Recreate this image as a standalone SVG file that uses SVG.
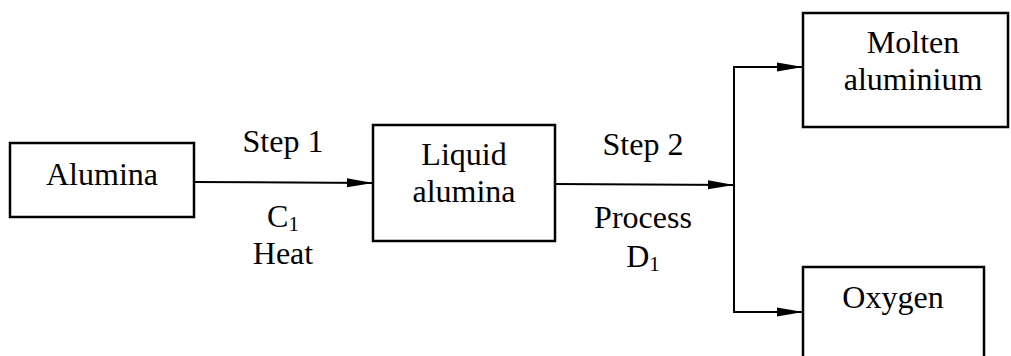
<svg xmlns="http://www.w3.org/2000/svg" width="1011" height="356" viewBox="0 0 1011 356">
<style>
.box{fill:#fff;stroke:#000;stroke-width:2.5}
text{font-family:"Liberation Serif","Times New Roman",serif;font-size:32px;fill:#000;text-anchor:middle}
.ln{fill:none;stroke:#000;stroke-width:2}
.sub{font-size:21px}
</style>
<defs>
<marker id="ah" markerWidth="26" markerHeight="10" refX="26" refY="5" orient="auto" markerUnits="userSpaceOnUse">
<path d="M0,0.5 L26,5 L0,9.5 Z" fill="#000"/>
</marker>
</defs>
<rect width="1011" height="356" fill="#fff"/>
<g id="connectors">
<line class="ln" x1="194" y1="182" x2="373" y2="183" marker-end="url(#ah)"/>
<line class="ln" x1="555" y1="184" x2="734" y2="185" marker-end="url(#ah)"/>
<polyline class="ln" points="803,67 734,67 734,312 803,312"/>
<line class="ln" x1="734" y1="67" x2="803" y2="67" marker-end="url(#ah)"/>
<line class="ln" x1="734" y1="312" x2="803" y2="312" marker-end="url(#ah)"/>
<text x="283" y="152">Step 1</text>
<text x="283" y="227">C<tspan class="sub" dy="4">1</tspan></text>
<text x="283" y="264">Heat</text>
<text x="643" y="155">Step 2</text>
<text x="643" y="228">Process</text>
<text x="643" y="267">D<tspan class="sub" dy="4">1</tspan></text>
</g>
<g id="alumina">
<rect class="box" x="10" y="143" width="184" height="74"/>
<text x="102" y="185">Alumina</text>
</g>
<g id="liquid-alumina">
<rect class="box" x="373" y="125" width="182" height="116"/>
<text x="464" y="165">Liquid</text>
<text x="464" y="202">alumina</text>
</g>
<g id="molten-aluminium">
<rect class="box" x="803" y="13" width="205" height="114"/>
<text x="913" y="53">Molten</text>
<text x="913" y="90">aluminium</text>
</g>
<g id="oxygen">
<rect class="box" x="803" y="267" width="181" height="100"/>
<text x="893" y="308">Oxygen</text>
</g>
</svg>
